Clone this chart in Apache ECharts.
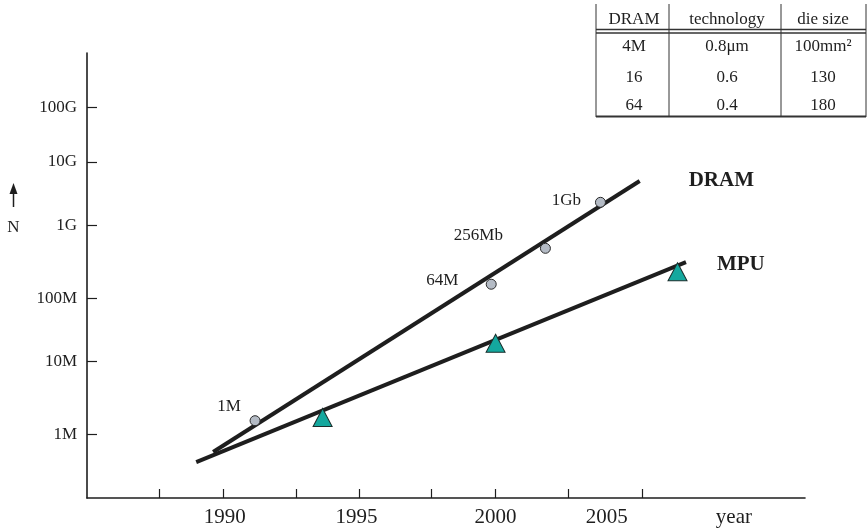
<!DOCTYPE html>
<html><head><meta charset="utf-8">
<script src="https://cdn.jsdelivr.net/npm/echarts@6/dist/echarts.min.js"></script>
<style>html,body{margin:0;padding:0;background:#fff}#c{width:867px;height:532px}</style>
</head><body><div id="c"></div>
<script>
// ---- data ----
const dramLineYears = [1989.63, 2005.29];
const dramLineN = [5.56e5, 4.4e9];
const mpuLineYears = [1989.01, 2006.99];
const mpuLineN = [3.99e5, 3.0e8];
const dramPointYears = [1991.17, 1999.84, 2001.83, 2003.85];
const dramPointN = [1.57e6, 1.44e8, 4.73e8, 2.17e9];
const dramPointLabels = ['1M', '64M', '256Mb', '1Gb'];
const mpuPointYears = [1993.65, 2000.0, 2006.68];
const mpuPointN = [1.75e6, 2.04e7, 2.18e8];
const yTickLabels = ['1M', '10M', '100M', '1G', '10G', '100G'];
const yTickPos = [6, 7.044, 7.956, 9, 9.916, 10.697];      // log10 positions as drawn
const xTickYears = [1987.65, 1990, 1992.68, 1995, 1997.65, 2000, 2002.68, 2005.37];
const xLabels = ['1990', '1995', '2000', '2005', 'year'];
const xLabelPos = [1990.06, 1994.89, 2000, 2004.08, 2008.75];
const tableHeader = ['DRAM', 'technology', 'die size'];
const tableRows = [['4M', '0.8μm', '100mm²'], ['16', '0.6', '130'], ['64', '0.4', '180']];

// ---- styles ----
const serif = '"Liberation Serif", "DejaVu Serif", serif';
const ink = '#1e1e1e';
const dramLabelOffsets = [[-26, -14], [-49, -4], [-67, -13], [-34, -2]];
const nearest = (arr, v) => { let b = 0; arr.forEach((a, i) => { if (Math.abs(a - v) < Math.abs(arr[b] - v)) b = i; }); return b; };
const lg = v => Math.log10(v);

// table graphic
const colX = [634, 727, 823];
const rowY = [20, 47, 78, 106];
const tableG = [];
tableHeader.forEach((t, c) => tableG.push({type: 'text', x: colX[c], y: rowY[0], style: {text: t, fill: ink, font: '17px ' + serif, textAlign: 'center', textVerticalAlign: 'middle'}}));
tableRows.forEach((row, r) => row.forEach((t, c) => tableG.push({type: 'text', x: colX[c], y: rowY[r + 1], style: {text: t, fill: ink, font: '17px ' + serif, textAlign: 'center', textVerticalAlign: 'middle'}})));
const ln = (x1, y1, x2, y2, w) => ({type: 'line', shape: {x1, y1, x2, y2}, style: {stroke: '#333', lineWidth: w}});
tableG.push(ln(596, 4, 596, 117, 1), ln(669, 4, 669, 117, 1), ln(781, 4, 781, 117, 1), ln(866, 4, 866, 117, 1));
tableG.push(ln(596, 29.5, 866, 29.5, 1.3), ln(596, 33, 866, 33, 1.3), ln(596, 116.5, 866, 116.5, 2));

const chart = echarts.init(document.getElementById('c'), null, {renderer: 'canvas'});
chart.setOption({
  animation: false,
  backgroundColor: '#fff',
  grid: {left: 87, right: 62, top: 53, bottom: 34},
  xAxis: {
    type: 'value', min: 1985, max: 2011.36,
    axisLine: {onZero: false, lineStyle: {color: ink, width: 1.6}},
    axisTick: {show: true, inside: true, length: 9, customValues: xTickYears, lineStyle: {color: ink, width: 1.2}},
    axisLabel: {customValues: xLabelPos, formatter: v => xLabels[nearest(xLabelPos, v)], fontFamily: serif, fontSize: 21, color: ink, margin: 9},
    splitLine: {show: false}
  },
  yAxis: {
    type: 'value', min: 5.084, max: 11.484,
    axisLine: {show: true, onZero: false, lineStyle: {color: ink, width: 1.6}},
    axisTick: {show: true, inside: true, length: 10, customValues: yTickPos, lineStyle: {color: ink, width: 1.2}},
    axisLabel: {customValues: yTickPos, formatter: v => yTickLabels[nearest(yTickPos, v)], fontFamily: serif, fontSize: 17, color: ink, margin: 10},
    splitLine: {show: false}
  },
  graphic: [
    {type: 'line', shape: {x1: 13.5, y1: 207, x2: 13.5, y2: 191}, style: {stroke: ink, lineWidth: 1.5}},
    {type: 'polygon', shape: {points: [[13.5, 183], [9.5, 194], [17.5, 194]]}, style: {fill: ink}},
    {type: 'text', x: 13.5, y: 228, style: {text: 'N', fill: ink, font: '17px ' + serif, textAlign: 'center', textVerticalAlign: 'middle'}}
  ].concat(tableG),
  series: [
    {type: 'line', data: dramLineYears.map((x, i) => [x, lg(dramLineN[i])]), symbol: 'none', lineStyle: {color: ink, width: 4},
      endLabel: {show: true, formatter: 'DRAM', distance: 49, fontFamily: serif, fontWeight: 'bold', fontSize: 21, color: ink}},
    {type: 'line', data: mpuLineYears.map((x, i) => [x, lg(mpuLineN[i])]), symbol: 'none', lineStyle: {color: ink, width: 4},
      endLabel: {show: true, formatter: 'MPU', distance: 31, offset: [0, 3], fontFamily: serif, fontWeight: 'bold', fontSize: 21, color: ink}},
    {type: 'scatter', symbol: 'circle', symbolSize: 10, z: 5,
      itemStyle: {color: '#b4bbc5', borderColor: '#2a2a2a', borderWidth: 1, opacity: 1},
      data: dramPointYears.map((x, i) => ({value: [x, lg(dramPointN[i])],
        label: {show: true, formatter: dramPointLabels[i], position: 'inside', offset: dramLabelOffsets[i], fontFamily: serif, fontSize: 17, color: ink}}))},
    {type: 'scatter', symbol: 'triangle', symbolSize: [19, 18], z: 5,
      itemStyle: {color: '#14a89e', borderColor: '#1b2e2c', borderWidth: 1, opacity: 1},
      data: mpuPointYears.map((x, i) => [x, lg(mpuPointN[i])])}
  ]
});
</script></body></html>
